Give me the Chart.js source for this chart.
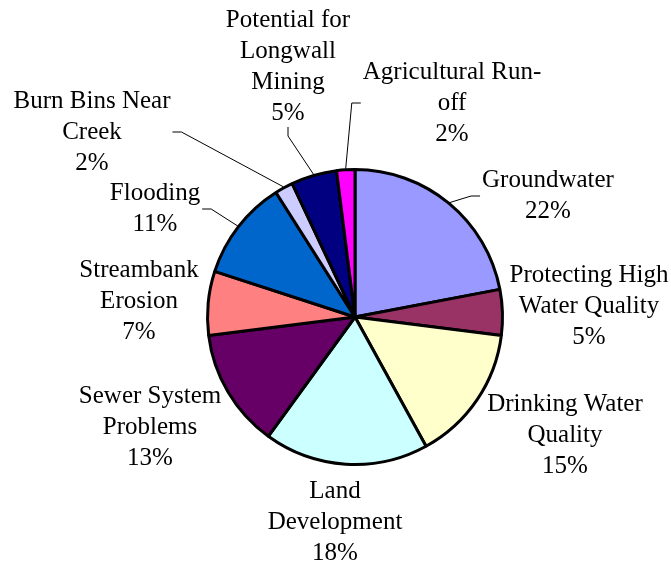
<!DOCTYPE html>
<html>
<head>
<meta charset="utf-8">
<script src="https://cdn.jsdelivr.net/npm/chart.js@4.4.1/dist/chart.umd.min.js"></script>
<style>
  html, body { margin: 0; padding: 0; background: #fff; }
  canvas { display: block; }
  .fontprobe { font-family: 'Liberation Serif'; position: absolute; left: -999px; }
</style>
</head>
<body>
<span class="fontprobe">Aa</span>
<canvas id="chart" width="671" height="561"></canvas>
<script>
const categories = [
  ['Groundwater'],
  ['Protecting High', 'Water Quality'],
  ['Drinking Water', 'Quality'],
  ['Land', 'Development'],
  ['Sewer System', 'Problems'],
  ['Streambank', 'Erosion'],
  ['Flooding'],
  ['Burn Bins Near', 'Creek'],
  ['Potential for', 'Longwall', 'Mining'],
  ['Agricultural Run-', 'off']
];
const values = [22, 5, 15, 18, 13, 7, 11, 2, 5, 2];
const sliceColors = [
  '#9999FF', '#993366', '#FFFFCC', '#CCFFFF', '#660066',
  '#FF8080', '#0066CC', '#CCCCFF', '#000080', '#FF00FF'
];

// label block centre, relative to the pie centre; leader = draw a connector line
const labelPlacement = [
  { dx: 193, dy: -121, leader: true },
  { dx: 234, dy: -11 },
  { dx: 210, dy: 118 },
  { dx: -20, dy: 205 },
  { dx: -205, dy: 110 },
  { dx: -216, dy: -16 },
  { dx: -200, dy: -108, leader: true },
  { dx: -263, dy: -185, leader: true },
  { dx: -67, dy: -250, leader: true },
  { dx: 97, dy: -214, leader: true }
];

const labelFont = '25px "Liberation Serif", "Times New Roman", serif';

const outsideLabels = {
  id: 'outsideLabels',
  afterDraw(chart) {
    const ctx = chart.ctx;
    const meta = chart.getDatasetMeta(0);
    const total = values.reduce((a, b) => a + b, 0);
    const lh = 31;
    ctx.save();
    ctx.font = labelFont;
    ctx.fillStyle = '#000';
    ctx.strokeStyle = '#000';
    ctx.textAlign = 'center';
    ctx.textBaseline = 'middle';
    meta.data.forEach((arc, i) => {
      const p = arc.getProps(['x', 'y', 'startAngle', 'endAngle', 'outerRadius'], true);
      const lines = categories[i].concat([Math.round(values[i] / total * 100) + '%']);
      const pos = labelPlacement[i];
      const cx = p.x + pos.dx, cy = p.y + pos.dy;
      const h = lines.length * lh;
      const top = cy - h / 2;
      lines.forEach((t, k) => ctx.fillText(t, cx, top + lh * (k + 0.5)));
      if (pos.leader) {
        const w = Math.max(...lines.map(t => ctx.measureText(t).width));
        const box = { l: cx - w / 2, r: cx + w / 2, t: top, b: top + h - 4 };
        const mid = (p.startAngle + p.endAngle) / 2;
        const ex = p.x + Math.cos(mid) * (p.outerRadius + 1);
        const ey = p.y + Math.sin(mid) * (p.outerRadius + 1);
        let ax, ay, bx, by;
        if (ey > box.b && ex > box.l && ex < box.r) {
          ax = cx; ay = box.b + 2; bx = ax; by = ay + 9;
        } else if (ex < box.l) {
          ax = box.l - 2; ay = cy; bx = ax - 9; by = ay;
        } else {
          ax = box.r + 2; ay = cy; bx = ax + 9; by = ay;
        }
        ctx.lineWidth = 1;
        ctx.beginPath();
        ctx.moveTo(ex, ey);
        ctx.lineTo(bx, by);
        ctx.lineTo(ax, ay);
        ctx.stroke();
      }
    });
    ctx.restore();
  }
};

function draw() {
  new Chart(document.getElementById('chart').getContext('2d'), {
    type: 'pie',
    data: {
      labels: categories,
      datasets: [{
        data: values,
        backgroundColor: sliceColors,
        borderColor: '#000',
        borderWidth: 3
      }]
    },
    options: {
      responsive: false,
      animation: false,
      layout: { padding: { left: 206, right: 167, top: 168, bottom: 95 } },
      plugins: {
        legend: { display: false },
        tooltip: { enabled: false }
      }
    },
    plugins: [outsideLabels]
  });
}

document.fonts.load(labelFont).then(draw, draw);
</script>
</body>
</html>
